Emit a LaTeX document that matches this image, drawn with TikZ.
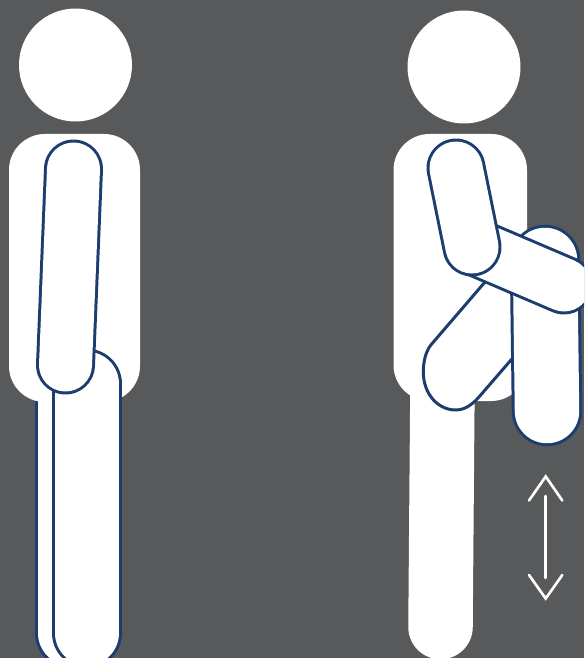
\documentclass[tikz,border=0pt]{standalone}
\usepackage{xcolor}
\definecolor{backgray}{HTML}{58595B}
\definecolor{limbblue}{HTML}{1B3E6F}
\tikzset{
  limb/.style={line cap=round, draw=limbblue, line width=1.7pt, double=white, double distance=#1},
  trunk/.style={fill=white, rounded corners=0.72cm},
  hintline/.style={white, line width=1.5pt, line cap=round, line join=miter}
}

\begin{document}
\begin{tikzpicture}[x=0.02cm, y=-0.02cm]
  \path[use as bounding box, clip] (0,0) rectangle (584,658);
  \fill[backgray] (0,0) rectangle (584,658);
  % ------- figure 1: standing still -------
  \fill[white] (75.5,65) circle (56.5);
  \draw[limb=1.29cm] (70,384) -- (70,633);
  \fill[trunk] (9,134) rectangle (140,402);
  \draw[limb=1.29cm] (87,384) -- (87,633);
  \draw[limb=1.06cm] (73.5,169) -- (65.5,365);
  % ------- figure 2: knee raised -------
  \fill[white] (464,67) circle (56.5);
  \draw[white, line width=1.29cm, line cap=round] (442.5,380) -- (440.5,627);
  \fill[trunk] (393.5,134) rectangle (527,401);
  % lower leg, its foot end is not quite round
  \draw[limbblue, fill=white, line width=1.7pt] (497,268) -- (432.3,343.3)
    .. controls (426,350) and (423.3,361) .. (423.3,372)
    .. controls (423.3,394) and (438,410) .. (455.7,410)
    .. controls (466,410) and (474,403) .. (480.7,395) -- (530,338);
  \draw[limb=1.29cm] (545,260) -- (547,411);
  \draw[limb=1.06cm] (482,250) -- (564,285);
  \draw[limb=1.06cm] (456,168) -- (472,247);
  % up and down hint
  \draw[hintline] (545.7,496) -- (545.7,578);
  \draw[hintline] (529,500.5) -- (545.7,476.5) -- (562.3,500.5);
  \draw[hintline] (529,575) -- (545.7,598.5) -- (562.3,575);
\end{tikzpicture}
\end{document}
